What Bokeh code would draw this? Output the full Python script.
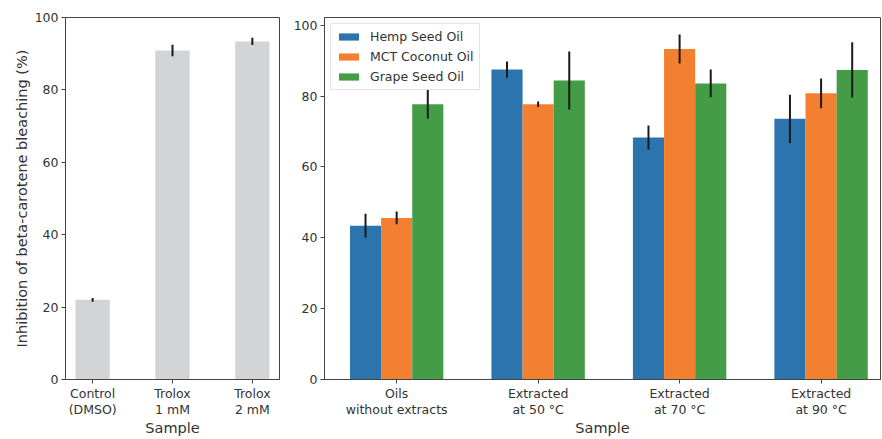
from bokeh.plotting import figure
from bokeh.layouts import row
from bokeh.models import Range1d, FixedTicker
from bokeh.embed import file_html
from bokeh.resources import INLINE

# ---- data ----
ctrl_labels = ["Control\n(DMSO)", "Trolox\n1 mM", "Trolox\n2 mM"]
ctrl_values = [22.0, 90.9, 93.4]
ctrl_errors = [0.5, 1.6, 1.0]

groups = ["Oils\nwithout extracts", "Extracted\nat 50 °C", "Extracted\nat 70 °C", "Extracted\nat 90 °C"]
series_names = ["Hemp Seed Oil", "MCT Coconut Oil", "Grape Seed Oil"]
hemp = [43.4, 87.5, 68.3, 73.6]
hemp_err = [3.4, 2.3, 3.4, 6.8]
mct = [45.6, 77.7, 93.3, 80.8]
mct_err = [1.8, 0.8, 4.1, 4.2]
grape = [77.7, 84.4, 83.6, 87.4]
grape_err = [4.0, 8.2, 3.9, 7.8]
y_ticks = [0, 20, 40, 60, 80, 100]

colors = ["#2b74ad", "#f28030", "#449c47"]
gray = "#d3d4d6"
text_color = "#333333"
spine = "#444444"
FONT = "DejaVu Sans"


def style(p):
    p.outline_line_color = spine
    p.outline_line_width = 1
    p.xgrid.visible = False
    p.ygrid.visible = False
    p.background_fill_color = "white"
    p.border_fill_color = "white"
    for ax in (p.xaxis[0], p.yaxis[0]):
        ax.axis_line_color = spine
        ax.major_tick_line_color = spine
        ax.major_tick_in = 0
        ax.major_tick_out = 4
        ax.minor_tick_line_color = None
        ax.major_label_text_font = FONT
        ax.major_label_text_font_size = "12.5px"
        ax.major_label_text_color = text_color
        ax.major_label_text_line_height = 1.1
        ax.major_label_standoff = 3
        ax.axis_label_text_font = FONT
        ax.axis_label_text_font_size = "14.5px"
        ax.axis_label_text_font_style = "normal"
        ax.axis_label_text_color = text_color
        ax.axis_label_standoff = 2
    p.xaxis[0].major_label_standoff = 2
    p.xaxis[0].axis_label_standoff = 0
    p.yaxis[0].ticker = FixedTicker(ticks=y_ticks)


# ---- left panel ----
left = figure(frame_width=214, frame_height=362,
              x_range=Range1d(-0.34, 2.34), y_range=Range1d(0, 100),
              output_backend="svg", toolbar_location=None,
              min_border_left=65, min_border_right=10, min_border_top=17,
              min_border_bottom=0)
style(left)
cx = list(range(len(ctrl_labels)))
left.vbar(x=cx, top=ctrl_values, width=0.43, fill_color=gray, line_color=None)
left.segment(x0=cx, y0=[v - e for v, e in zip(ctrl_values, ctrl_errors)],
             x1=cx, y1=[v + e for v, e in zip(ctrl_values, ctrl_errors)],
             line_color="#1a1a1a", line_width=2)
left.xaxis[0].ticker = FixedTicker(ticks=cx)
left.xaxis[0].major_label_overrides = {i: lab for i, lab in enumerate(ctrl_labels)}
left.xaxis[0].axis_label = "Sample"
left.yaxis[0].axis_label = "Inhibition of beta-carotene bleaching (%)"

# ---- right panel ----
right = figure(frame_width=556, frame_height=362,
               x_range=Range1d(-0.51, 3.42), y_range=Range1d(0, 102.2),
               output_backend="svg", toolbar_location=None,
               min_border_left=35, min_border_right=2, min_border_top=17,
               min_border_bottom=0)
style(right)
gx = list(range(len(groups)))
bw = 0.22
for k, (vals, name) in enumerate(zip([hemp, mct, grape], series_names)):
    xs = [g + (k - 1) * bw for g in gx]
    right.vbar(x=xs, top=vals, width=bw, fill_color=colors[k], line_color=None,
               legend_label=name)
for k, (vals, errs) in enumerate(zip([hemp, mct, grape], [hemp_err, mct_err, grape_err])):
    xs = [g + (k - 1) * bw for g in gx]
    right.segment(x0=xs, y0=[v - e for v, e in zip(vals, errs)],
                  x1=xs, y1=[v + e for v, e in zip(vals, errs)],
                  line_color="#1a1a1a", line_width=2)
right.xaxis[0].ticker = FixedTicker(ticks=gx)
right.xaxis[0].major_label_overrides = {i: lab for i, lab in enumerate(groups)}
right.xaxis[0].axis_label = "Sample"

lg = right.legend[0]
lg.location = "top_left"
lg.margin = 6
lg.padding = 5
lg.spacing = 5
lg.glyph_width = 25
lg.glyph_height = 9
lg.label_height = 13
lg.label_standoff = 9
lg.label_text_font = FONT
lg.label_text_font_size = "12.5px"
lg.label_text_color = text_color
lg.border_line_color = "#cccccc"
lg.border_line_width = 1
lg.background_fill_alpha = 0.85

layout = row(left, right)
open("out.html", "w").write(file_html(layout, INLINE))
